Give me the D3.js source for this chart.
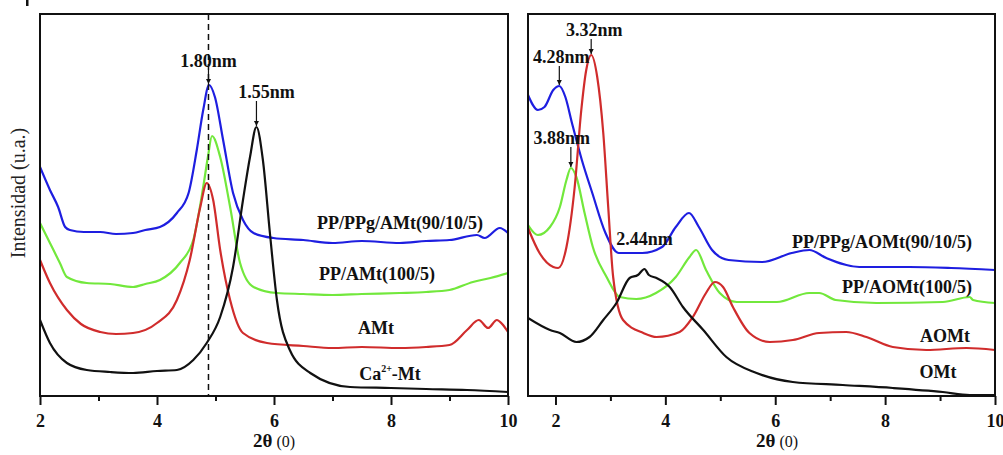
<!DOCTYPE html>
<html>
<head>
<meta charset="utf-8">
<script src="https://cdn.jsdelivr.net/npm/d3@7"></script>
<style>
  body { margin: 0; background: #fff; }
  text { font-family: "Liberation Serif", "Times New Roman", serif; }
</style>
</head>
<body>
<svg id="chart" width="1003" height="455"></svg>
<script>
// XRD patterns, intensity in arbitrary units, 2θ in degrees.
// Left panel: AMt series
const thetaTicksLeft = [2, 4, 6, 8, 10];
const ppPPgAMt = [[2.0,229],[2.17,206],[2.31,189],[2.43,169],[2.51,166],[2.75,164],[3.03,164],[3.3,162],[3.59,163],[3.8,166],[4.05,169],[4.34,183],[4.54,203],[4.68,246],[4.79,286],[4.89,311],[4.99,299],[5.13,256],[5.3,203],[5.47,176],[5.65,163],[5.99,158],[6.5,156],[7.0,153],[7.5,155],[8.15,153],[8.6,155],[9.0,156],[9.47,161],[9.6,158],[9.86,168],[10,163]];
const ppAMt = [[2.0,173],[2.17,153],[2.34,133],[2.46,119],[2.8,113],[3.2,112],[3.59,109],[3.8,112],[4.05,116],[4.39,133],[4.62,156],[4.79,209],[4.87,239],[4.94,260],[5.08,239],[5.25,189],[5.42,133],[5.65,109],[6.05,103],[6.5,102],[7.0,101],[7.5,102],[8.15,103],[8.6,104],[9.0,106],[9.4,114],[9.7,118],[10,123]];
const aMt = [[2.0,136],[2.17,113],[2.46,86],[2.7,72],[3.03,64],[3.3,62],[3.59,63],[4.0,73],[4.34,96],[4.56,136],[4.74,189],[4.85,213],[4.96,196],[5.08,146],[5.25,96],[5.47,63],[5.88,53],[6.5,50],[7.0,48],[7.5,49],[8.15,48],[8.6,49],[9.0,51],[9.3,66],[9.5,76],[9.66,68],[9.81,76],[9.9,72],[10,64]];
const caMt = [[2.0,76],[2.17,53],[2.46,33],[2.8,26],[3.2,24],[3.59,23],[4.0,25],[4.34,26],[4.62,36],[4.85,53],[5.08,79],[5.3,129],[5.47,196],[5.59,239],[5.7,269],[5.81,236],[5.93,163],[6.05,96],[6.27,46],[6.62,23],[7.3,9],[8.0,8],[8.6,7],[9.3,6],[10,4]];

// Right panel: AOMt series
const thetaTicksRight = [2, 4, 6, 8, 10];
const ppPPgAOMt = [[1.5,301],[1.68,286],[1.8,289],[1.96,306],[2.07,310],[2.18,299],[2.3,273],[2.48,236],[2.67,203],[2.91,163],[3.15,143],[3.4,143],[3.58,143],[3.94,149],[4.19,169],[4.43,183],[4.61,169],[4.85,146],[5.15,136],[5.76,134],[6.3,143],[6.62,146],[6.93,138],[7.53,129],[8.44,129],[9.2,128],[10,126]];
const ppAOMt = [[1.5,171],[1.68,161],[1.9,169],[2.08,189],[2.2,216],[2.28,228],[2.38,219],[2.53,183],[2.68,149],[2.93,119],[3.17,99],[3.47,97],[3.83,103],[4.19,119],[4.44,139],[4.56,146],[4.74,126],[4.99,103],[5.3,94],[6.03,94],[6.62,103],[6.8,103],[7.1,96],[7.84,93],[9.05,94],[9.54,99],[9.6,96],[10,93]];
const aOMt = [[1.5,168],[1.71,143],[1.96,129],[2.05,128],[2.2,149],[2.35,209],[2.47,286],[2.56,326],[2.65,341],[2.76,319],[2.87,263],[2.96,189],[3.05,119],[3.23,76],[3.6,63],[3.84,59],[4.26,64],[4.5,79],[4.74,103],[4.9,114],[5.05,109],[5.23,89],[5.53,63],[5.9,54],[6.32,56],[6.8,63],[7.29,64],[7.66,59],[8.14,49],[8.75,46],[9.48,48],[10,46]];
const oMt = [[1.5,78],[1.9,66],[2.08,63],[2.38,54],[2.62,59],[2.87,76],[3.11,93],[3.35,118],[3.5,121],[3.62,127],[3.7,121],[3.84,118],[4.08,109],[4.32,89],[4.69,66],[5.11,39],[5.66,23],[6.32,14],[7.23,11],[8.14,8],[9.05,4],[9.54,1],[10,1]];

// Peak annotations: label, 2θ position, intensity at the peak
const peaksLeft = [
  { label: "1.80nm", theta: 4.88, value: 311, arrow: true },
  { label: "1.55nm", theta: 5.70, value: 269, arrow: true }
];
const peaksRight = [
  { label: "3.32nm", theta: 2.65, value: 341, arrow: true },
  { label: "4.28nm", theta: 2.07, value: 310, arrow: true },
  { label: "3.88nm", theta: 2.28, value: 228, arrow: true },
  { label: "2.44nm", theta: 3.62, value: 127, arrow: false }
];
const dashedTheta = 4.88;

const COLORS = { blue: "#1e1ee0", green: "#72e83c", red: "#d02c2c", black: "#111111" };
const FONT_BOLD = "18px";

const svg = d3.select("#chart");

// arrowhead marker
svg.append("defs").append("marker")
  .attr("id", "arrow").attr("viewBox", "0 0 10 10")
  .attr("refX", 10).attr("refY", 5)
  .attr("markerWidth", 4.5).attr("markerHeight", 5.5)
  .attr("orient", "auto")
  .append("path").attr("d", "M0,0 L10,5 L0,10 z").attr("fill", "#111");

function drawPanel(cfg) {
  const x = d3.scaleLinear().domain(cfg.domain).range([cfg.left, cfg.right]);
  const y = d3.scaleLinear().domain([0, 382]).range([396, 14]);
  const g = svg.append("g");

  const clipId = "clip-" + cfg.id;
  g.append("clipPath").attr("id", clipId).append("rect")
    .attr("x", cfg.left).attr("y", 14).attr("width", cfg.right - cfg.left).attr("height", 382);

  // bottom axis: outward ticks, longer at labelled values
  const allTicks = d3.range(Math.ceil(cfg.domain[0]), cfg.domain[1] + 0.001, 1);
  const axis = d3.axisBottom(x).tickValues(allTicks).tickSize(8).tickSizeOuter(0)
    .tickFormat(d => cfg.labels.includes(d) ? d : "");
  const ax = g.append("g").attr("transform", "translate(0,396)").call(axis);
  ax.select(".domain").remove();
  ax.selectAll(".tick line")
    .attr("y2", d => cfg.labels.includes(d) ? 9 : 5)
    .attr("stroke", "#111").attr("stroke-width", 2);
  ax.selectAll(".tick text")
    .attr("y", 25).attr("dy", "0.35em")
    .style("font-family", "'Liberation Serif', serif")
    .style("font-weight", "bold").style("font-size", FONT_BOLD).attr("fill", "#111");

  // axis title
  const t = g.append("text").attr("x", cfg.titleX).attr("y", 447)
    .attr("text-anchor", "middle").attr("fill", "#111").style("font-size", "19px");
  t.append("tspan").text("2θ").style("font-weight", "bold");
  t.append("tspan").text(" (0)").style("font-size", "16px");

  // series
  const line = d3.line().x(d => x(d[0])).y(d => y(d[1])).curve(d3.curveMonotoneX);
  const lines = g.append("g").attr("clip-path", `url(#${clipId})`);
  cfg.series.forEach(s => {
    lines.append("path").datum(s.data)
      .attr("d", line).attr("fill", "none")
      .attr("stroke", s.color).attr("stroke-width", 2.2)
      .attr("stroke-linejoin", "round");
  });

  // series labels
  cfg.series.forEach(s => {
    const txt = g.append("text").attr("x", s.lx).attr("y", s.ly)
      .attr("text-anchor", "middle").attr("fill", "#111")
      .style("font-weight", "bold").style("font-size", FONT_BOLD);
    if (s.sup) {
      txt.append("tspan").text(s.name[0]);
      txt.append("tspan").text(s.sup).attr("dy", -8).style("font-size", "10px");
      txt.append("tspan").text(s.name[1]).attr("dy", 8);
    } else {
      txt.text(s.name);
    }
  });

  // peak annotations
  cfg.peaks.forEach((p, i) => {
    const o = cfg.peakOffsets[i];
    const px = x(p.theta), py = y(p.value);
    if (p.arrow) {
      g.append("line")
        .attr("x1", px).attr("x2", px)
        .attr("y1", py - o.gap + 3).attr("y2", py - 1)
        .attr("stroke", "#111").attr("stroke-width", 1.2)
        .attr("marker-end", "url(#arrow)");
    }
    g.append("text").attr("x", px + o.dx).attr("y", py - o.gap)
      .attr("text-anchor", "middle").attr("fill", "#111")
      .style("font-weight", "bold").style("font-size", FONT_BOLD)
      .text(p.label);
  });

  // frame
  g.append("rect")
    .attr("x", cfg.left).attr("y", 14)
    .attr("width", cfg.right - cfg.left).attr("height", 382)
    .attr("fill", "none").attr("stroke", "#111").attr("stroke-width", 2);

  return { x, y, g };
}

const left = drawPanel({
  id: "left", domain: [2, 10], left: 40, right: 508, labels: thetaTicksLeft, titleX: 274,
  series: [
    { data: ppPPgAMt, color: COLORS.blue, name: "PP/PPg/AMt(90/10/5)", lx: 400, ly: 229 },
    { data: ppAMt, color: COLORS.green, name: "PP/AMt(100/5)", lx: 377, ly: 280 },
    { data: aMt, color: COLORS.red, name: "AMt", lx: 376, ly: 334 },
    { data: caMt, color: COLORS.black, name: ["Ca", "-Mt"], sup: "2+", lx: 390, ly: 380 }
  ],
  peaks: peaksLeft,
  peakOffsets: [{ dx: 0, gap: 18 }, { dx: 10, gap: 29 }]
});

// dashed reference line through the 1.80 nm reflection
left.g.append("line")
  .attr("x1", left.x(dashedTheta)).attr("x2", left.x(dashedTheta))
  .attr("y1", 14).attr("y2", 396)
  .attr("stroke", "#111").attr("stroke-width", 1.5).attr("stroke-dasharray", "6,4");

// Intensity axis title
svg.append("text")
  .attr("transform", "translate(25,193) rotate(-90)")
  .attr("text-anchor", "middle").attr("fill", "#222")
  .style("font-size", "20px")
  .text("Intensidad (u.a.)");

drawPanel({
  id: "right", domain: [1.5, 10], left: 528, right: 995, labels: thetaTicksRight, titleX: 777,
  series: [
    { data: ppPPgAOMt, color: COLORS.blue, name: "PP/PPg/AOMt(90/10/5)", lx: 882, ly: 248 },
    { data: ppAOMt, color: COLORS.green, name: "PP/AOMt(100/5)", lx: 907, ly: 293 },
    { data: aOMt, color: COLORS.red, name: "AOMt", lx: 945, ly: 342 },
    { data: oMt, color: COLORS.black, name: "OMt", lx: 938, ly: 378 }
  ],
  peaks: peaksRight,
  peakOffsets: [{ dx: 3, gap: 19 }, { dx: 2, gap: 23 }, { dx: -9, gap: 24 }, { dx: 0, gap: 24 }]
});

// small mark at the top-left corner
svg.append("rect").attr("x", 26).attr("y", 0).attr("width", 2.5).attr("height", 6).attr("fill", "#111");
</script>
</body>
</html>
